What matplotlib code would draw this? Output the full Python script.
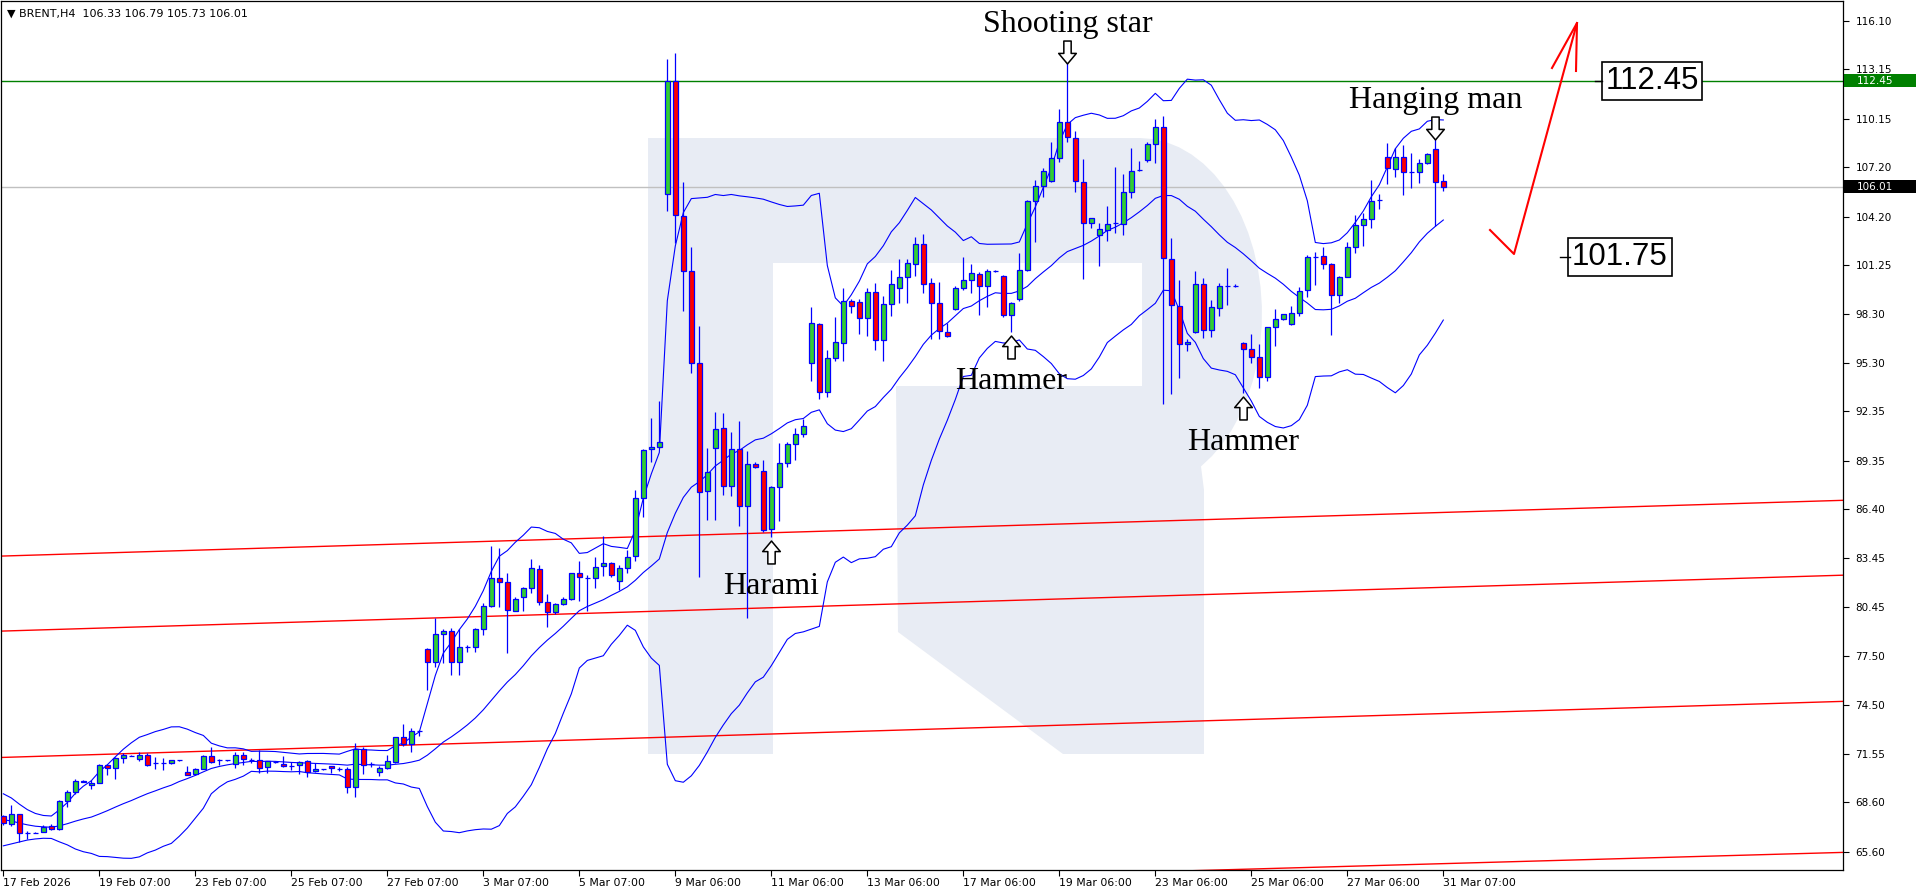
import numpy as np
import matplotlib.pyplot as plt
from matplotlib.path import Path
from matplotlib.patches import Polygon, Rectangle
from matplotlib.transforms import offset_copy, blended_transform_factory

# BRENT H4 candles (bar 0 = 17 Feb 2026)
opens = [67.76, 67.27, 67.86, 66.74, 66.74, 66.81, 67.15, 66.95, 68.65, 69.20,
         69.83, 69.62, 69.76, 70.84, 70.70, 71.26, 71.40, 71.24, 71.45, 70.98,
         70.96, 70.96, 71.14, 70.43, 70.31, 70.62, 71.41, 71.14, 71.14, 70.92,
         71.45, 71.16, 71.16, 70.72, 71.04, 70.90, 70.82, 70.84, 71.08, 70.47,
         70.60, 70.80, 70.62, 70.60, 69.50, 71.81, 70.90, 70.45, 70.66, 71.06,
         72.54, 72.11, 72.93, 77.89, 77.14, 78.80, 79.00, 77.10, 78.01, 78.01,
         79.11, 80.55, 82.21, 82.01, 80.24, 81.10, 81.60, 82.76, 80.75, 80.14,
         80.63, 80.93, 82.55, 82.25, 82.21, 82.96, 83.12, 82.05, 82.82, 83.57,
         87.07, 90.05, 90.17, 105.55, 112.44, 104.25, 100.89, 95.27, 87.52, 90.11,
         91.33, 87.82, 90.05, 86.61, 89.14, 88.73, 85.19, 87.74, 89.20, 90.36,
         90.98, 95.32, 97.65, 93.51, 95.58, 96.53, 99.08, 99.02, 98.01, 99.59,
         96.69, 98.86, 99.83, 100.50, 101.29, 102.51, 100.14, 98.92, 97.16, 98.56,
         99.83, 100.34, 100.69, 99.98, 100.89, 100.60, 98.21, 99.17, 100.95, 105.12,
         106.08, 106.36, 107.78, 109.92, 108.99, 106.32, 103.79, 103.08, 103.38, 103.79,
         103.74, 105.67, 107.03, 107.64, 108.59, 109.62, 101.60, 98.78, 96.45, 97.16,
         100.08, 97.30, 98.62, 99.99, 99.97, 96.53, 96.13, 95.64, 94.42, 97.46,
         97.95, 97.65, 98.35, 99.73, 101.76, 101.80, 101.29, 99.43, 100.54, 102.33,
         103.68, 104.03, 105.20, 107.80, 107.07, 107.84, 106.89, 106.89, 107.47, 108.28,
         106.33]
highs = [67.85, 68.43, 67.90, 66.85, 66.76, 67.20, 67.27, 68.73, 69.34, 70.03,
         69.93, 69.95, 70.90, 70.90, 71.36, 71.57, 71.45, 71.67, 71.61, 71.37,
         71.26, 71.16, 71.16, 70.80, 70.66, 71.47, 71.93, 71.24, 71.18, 71.67,
         71.67, 71.30, 71.77, 71.12, 71.08, 71.40, 71.06, 71.10, 71.16, 70.96,
         70.62, 70.82, 70.76, 70.76, 72.17, 71.97, 71.06, 70.80, 71.47, 72.58,
         73.35, 73.09, 73.00, 77.95, 79.78, 79.10, 79.17, 79.15, 78.16, 79.21,
         80.73, 84.20, 84.07, 82.51, 81.10, 81.70, 83.36, 83.02, 81.26, 80.73,
         81.10, 82.55, 83.26, 82.41, 83.49, 84.78, 83.20, 83.00, 83.93, 87.58,
         90.05, 91.93, 92.99, 113.77, 114.16, 106.28, 102.33, 97.54, 90.11, 92.34,
         92.24, 91.12, 91.77, 89.95, 89.30, 89.40, 87.80, 90.42, 90.50, 91.33,
         91.87, 98.72, 97.70, 96.09, 98.11, 99.83, 99.19, 99.19, 99.87, 100.14,
         99.37, 100.95, 101.62, 101.62, 102.97, 103.14, 100.48, 100.20, 97.71, 99.99,
         101.72, 101.31, 100.81, 100.99, 100.95, 100.65, 99.00, 101.96, 105.20, 106.42,
         107.13, 108.75, 110.74, 113.51, 109.40, 107.70, 104.13, 103.79, 104.84, 107.23,
         106.78, 108.38, 107.60, 108.75, 110.11, 110.31, 102.87, 100.34, 96.73, 100.89,
         100.48, 99.13, 100.14, 101.05, 100.10, 96.60, 97.06, 96.45, 97.50, 98.56,
         98.28, 98.78, 99.94, 101.86, 102.06, 102.37, 101.35, 100.60, 102.67, 104.29,
         104.39, 106.42, 105.57, 108.65, 108.34, 108.55, 108.04, 107.67, 108.08, 108.89,
         106.79]
lows = [67.20, 67.15, 66.20, 66.35, 66.72, 66.80, 66.91, 66.93, 68.29, 69.07,
        69.80, 69.42, 69.74, 70.23, 70.03, 70.96, 71.38, 71.12, 70.82, 70.60,
        70.56, 70.92, 71.10, 70.23, 70.27, 70.60, 70.96, 70.86, 71.10, 70.70,
        70.88, 71.00, 70.35, 70.35, 71.00, 70.76, 70.56, 70.31, 70.11, 70.45,
        70.58, 70.39, 70.50, 69.14, 68.93, 70.31, 70.76, 70.19, 70.62, 70.96,
        72.01, 71.67, 72.62, 75.42, 76.84, 77.04, 76.33, 76.33, 77.71, 77.75,
        78.75, 80.45, 80.49, 77.65, 80.20, 80.24, 81.34, 80.59, 79.27, 80.02,
        80.60, 80.89, 80.85, 80.24, 81.60, 82.35, 82.31, 81.50, 82.55, 83.28,
        85.92, 89.30, 90.10, 104.56, 102.60, 98.48, 94.71, 82.31, 85.76, 85.76,
        87.27, 87.21, 85.39, 79.78, 88.90, 85.01, 84.74, 85.71, 89.00, 89.40,
        90.80, 94.22, 93.11, 93.25, 95.44, 95.44, 98.35, 97.06, 96.96, 96.09,
        95.44, 98.15, 98.96, 98.92, 100.60, 99.53, 96.75, 96.75, 96.90, 98.50,
        99.73, 99.53, 98.21, 98.72, 100.85, 98.11, 97.20, 99.08, 100.90, 102.67,
        105.41, 106.30, 107.53, 108.71, 105.71, 100.38, 103.52, 101.21, 102.73, 103.22,
        103.08, 105.30, 106.99, 107.53, 107.47, 92.78, 93.39, 94.36, 96.04, 97.10,
        96.80, 96.86, 98.15, 98.82, 99.90, 93.49, 95.31, 93.75, 94.22, 96.33,
        97.90, 97.60, 98.15, 99.33, 100.04, 100.99, 97.00, 98.92, 100.50, 101.96,
        102.43, 103.52, 104.64, 106.18, 106.58, 105.51, 105.91, 106.26, 107.40, 103.62,
        105.73]
closes = [67.31, 67.86, 66.70, 66.74, 66.74, 67.09, 66.95, 68.67, 69.22, 69.89,
          69.89, 69.78, 70.84, 70.70, 71.26, 71.47, 71.40, 71.45, 70.88, 70.98,
          70.96, 71.14, 71.14, 70.27, 70.62, 71.41, 71.06, 71.14, 71.14, 71.45,
          71.20, 71.16, 70.65, 71.08, 71.04, 70.78, 70.82, 71.06, 70.45, 70.63,
          70.60, 70.66, 70.62, 69.50, 71.81, 70.84, 70.90, 70.66, 71.10, 72.54,
          72.11, 72.95, 72.95, 77.14, 78.80, 79.00, 77.10, 78.01, 78.01, 79.11,
          80.55, 82.21, 82.01, 80.28, 80.93, 81.60, 82.82, 80.75, 80.16, 80.63,
          80.93, 82.51, 82.29, 82.25, 82.92, 83.12, 82.39, 82.82, 83.53, 87.07,
          90.01, 90.17, 90.52, 112.44, 104.29, 100.89, 95.27, 87.48, 88.65, 91.27,
          87.82, 90.05, 86.61, 89.14, 88.96, 85.15, 87.74, 89.20, 90.36, 90.98,
          91.47, 97.71, 93.51, 95.58, 96.55, 99.08, 98.76, 98.01, 99.59, 96.69,
          98.86, 100.08, 100.50, 101.35, 102.51, 100.08, 98.92, 97.24, 96.96, 99.83,
          100.34, 100.75, 99.98, 100.89, 100.89, 98.21, 98.92, 100.95, 105.12, 106.08,
          106.99, 107.78, 109.92, 109.01, 106.36, 103.79, 104.13, 103.42, 103.72, 103.79,
          105.67, 106.99, 107.03, 108.59, 109.66, 101.66, 98.82, 96.45, 96.59, 100.08,
          97.30, 98.68, 99.99, 99.99, 99.97, 96.13, 95.64, 94.42, 97.46, 97.95,
          98.25, 98.35, 99.69, 101.76, 101.76, 101.31, 99.43, 100.54, 102.33, 103.68,
          104.03, 105.16, 105.20, 107.13, 107.84, 106.89, 106.89, 107.47, 107.98, 106.32,
          106.01]

# closes before the first visible bar (they feed the first Bollinger windows)
prior_closes = [69.2, 69.3, 68.9, 68.4, 67.9, 67.4, 67.0, 66.6, 66.8, 67.2,
                67.5, 67.1, 66.7, 66.9, 67.3, 67.6, 67.2, 66.8, 67.5]

date_ticks = [0, 12, 24, 36, 48, 60, 72, 84, 96, 108, 120, 132, 144, 156, 168, 180]
date_labels = ['17 Feb 2026', '19 Feb 07:00', '23 Feb 07:00', '25 Feb 07:00',
               '27 Feb 07:00', '3 Mar 07:00', '5 Mar 07:00', '9 Mar 06:00',
               '11 Mar 06:00', '13 Mar 06:00', '17 Mar 06:00', '19 Mar 06:00',
               '23 Mar 06:00', '25 Mar 06:00', '27 Mar 06:00', '31 Mar 07:00']
price_ticks = [116.10, 113.15, 110.15, 107.20, 104.20, 101.25, 98.30, 95.30, 92.35,
               89.35, 86.40, 83.45, 80.45, 77.50, 74.50, 71.55, 68.60, 65.60]

resistance = 112.45
target = 101.75
last_close = 106.01

# red trend lines: price at the left and at the right edge of the window
trend_left = [83.56, 79.00, 71.32, 62.40]
trend_right = [86.95, 82.40, 74.73, 65.55]

patterns = [('Harami', 96, 'low'), ('Hammer', 126, 'low'), ('Shooting star', 133, 'high'),
            ('Hammer', 155, 'low'), ('Hanging man', 179, 'high')]

BLUE = '#0000ff'

o = np.array(opens)
h = np.array(highs)
l = np.array(lows)
c = np.array(closes)
n = len(c)
x = np.arange(n)

# Bollinger bands (20, 2)
c_all = np.array(prior_closes + closes)
mid = np.array([c_all[i:i + 20].mean() for i in range(n)])
sd = np.array([c_all[i:i + 20].std() for i in range(n)])

fig = plt.figure(figsize=(19.16, 8.96), dpi=100)
ax = fig.add_axes([1 / 1916, 26 / 896, 1842 / 1916, 869 / 896])
ax.set_xlim(-0.29, 229.96)
ax.set_ylim(64.48, 117.30)


# watermark "R" (pixel layout of the screenshot -> axes fraction)
def px(pts):
    return [((a - 1) / 1842, (870 - b) / 869) for a, b in pts]


t = np.linspace(np.pi / 2, -np.pi / 3, 25)
arc = [(1140 + 122 * np.cos(a), 314 - 176 * np.sin(a)) for a in t]
logo = [(648, 138)] + arc + [(1204, 490), (1204, 754), (1063, 754), (898, 632), (896, 386),
                             (1142, 386), (1142, 263), (773, 263), (773, 754), (648, 754)]
ax.add_patch(Polygon(px(logo), closed=True, transform=ax.transAxes,
                     fc='#e8ecf4', ec='none', zorder=0))

# levels
ax.axhline(resistance, color='#008000', lw=1, zorder=2)
ax.axhline(last_close, color='#c0c0c0', lw=1, zorder=2)
x0, x1 = ax.get_xlim()
for a, b in zip(trend_left, trend_right):
    ax.plot([x0, x1], [a, b], color='#ff0000', lw=1, zorder=2)

# bands
ax.plot(x, mid + 2 * sd, color=BLUE, lw=0.8, zorder=2)
ax.plot(x, mid, color=BLUE, lw=0.8, zorder=2)
ax.plot(x, mid - 2 * sd, color=BLUE, lw=0.8, zorder=2)

# candles
ax.vlines(x, l, h, color=BLUE, lw=0.9, zorder=3)
ax.bar(x, np.abs(c - o), bottom=np.minimum(o, c), width=0.62,
       color=np.where(c >= o, '#32cd32', '#ff0000'), edgecolor=BLUE, linewidth=0.9, zorder=4)

# pattern arrows and names
arrow_up = Path([(0, 1), (0.77, 0.08), (0.32, 0.08), (0.32, -1), (-0.32, -1),
                 (-0.32, 0.08), (-0.77, 0.08), (0, 1)],
                [Path.MOVETO] + [Path.LINETO] * 6 + [Path.CLOSEPOLY])
arrow_down = Path(arrow_up.vertices * [1, -1], arrow_up.codes)
for name, b, side in patterns:
    if side == 'high':
        y, mk, da, dt = h[b], arrow_down, 8.0, 28.0
    else:
        y, mk, da, dt = l[b], arrow_up, -10.8, -36.0
    ax.plot(b, y, marker=mk, ms=16.5, mfc='white', mec='black', mew=1.1, ls='none',
            transform=offset_copy(ax.transData, fig, y=da, units='points'), zorder=6)
    ax.text(b, y, name, ha='center', va='center', fontsize=23, family='Liberation Serif',
            transform=offset_copy(ax.transData, fig, y=dt, units='points'), zorder=6)

# target boxes
tr = blended_transform_factory(ax.transAxes, ax.transData)
box = dict(boxstyle='square,pad=0.12', fc='white', ec='black', lw=1.2)
ax.text(0.8963, resistance, '112.45', transform=tr, ha='center', va='center',
        fontsize=22.5, family='Liberation Sans', bbox=box, zorder=7)
ax.text(0.8789, target, '101.75', transform=tr, ha='center', va='center',
        fontsize=22.5, family='Liberation Sans', bbox=box, zorder=7)
ax.plot([0.8654, 0.8692], [resistance, resistance], transform=tr, color='black', lw=1, zorder=7)
ax.plot([0.8464, 0.8518], [target, target], transform=tr, color='black', lw=1, zorder=7)

# hand drawn red forecast arrow
path_pts = px([(1490, 230), (1514, 254), (1577, 23)])
head_pts = px([(1552, 68), (1577, 23), (1576, 71)])
ax.plot(*zip(*path_pts), transform=ax.transAxes, color='#ff0000', lw=1.5, zorder=7)
ax.plot(*zip(*head_pts), transform=ax.transAxes, color='#ff0000', lw=1.5, zorder=7)

# price tags on the right scale
tag_h = 13 / 16.45
for val, col in [(resistance, '#008000'), (last_close, '#000000')]:
    ax.add_patch(Rectangle((1.0005, val - tag_h / 2), 0.04, tag_h, transform=tr,
                           fc=col, ec='none', clip_on=False, zorder=8))
    ax.text(1.0075, val, f'{val:.2f}', transform=tr, color='white', fontsize=7.5,
            va='center', ha='left', clip_on=False, zorder=9)

# header
ax.text(0.0033, 0.985, '\u25bc BRENT,H4  106.33 106.79 105.73 106.01', transform=ax.transAxes,
        fontsize=8, va='center', ha='left', zorder=9)

# axes
ax.yaxis.tick_right()
ax.set_yticks(price_ticks)
ax.set_yticklabels([f'{v:.2f}' for v in price_ticks])
ax.tick_params(axis='y', direction='out', length=4, width=0.8, pad=5, labelsize=7.5)
ax.set_xticks(date_ticks)
ax.set_xticklabels(date_labels)
for lab in ax.get_xticklabels():
    lab.set_horizontalalignment('left')
ax.tick_params(axis='x', direction='out', length=4, width=0.8, pad=2, labelsize=7.8)
for s in ax.spines.values():
    s.set_linewidth(0.9)

fig.savefig('out.png', dpi=100, facecolor='white')
